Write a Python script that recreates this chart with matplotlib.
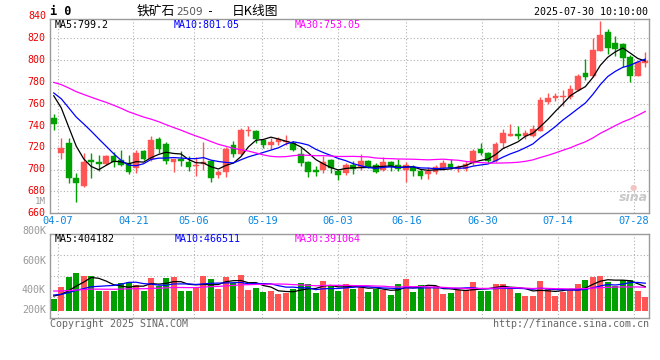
import numpy as np
import matplotlib
matplotlib.use('Agg')
import matplotlib.pyplot as plt
from matplotlib.transforms import ScaledTranslation

# ---------------- data ----------------
tick_labels = ['04-07', '04-21', '05-06', '05-19', '06-03', '06-16', '06-30', '07-14', '07-28']
tick_index = [1, 11, 19, 28, 38, 47, 57, 67, 77]

opens = [747, 715, 724, 692, 685, 709, 707, 705, 712, 709,
         706, 701, 717, 710, 728, 723, 706.5, 709.5, 706.5, 703,
         705, 708, 695, 697.5, 722, 714.5, 735, 735.5, 727, 722.5,
         725.5, 725, 724.5, 714, 707, 699.5, 699.5, 708.3, 698.5, 696.5,
         704.5, 702.5, 707.5, 704.5, 699.5, 707, 704.5, 699.5, 702.5, 698.5,
         695.5, 697.5, 701.5, 705.5, 700.5, 700.5, 706, 718.5, 715, 707.7,
         724.6, 731, 732.3, 731, 730.8, 735.5, 761.5, 765.3, 766, 766,
         772.7, 788.2, 785.2, 808.7, 825.5, 815.7, 814.8, 803.2, 785.8, 797.5]
highs = [751, 728.5, 729, 697, 715, 715, 713, 713, 716, 718,
         713, 718, 718, 731, 730, 725, 710, 717, 712, 711,
         725, 709, 699.5, 720.5, 726, 738, 739.5, 736, 728, 729,
         730, 732, 726, 720, 707.5, 703, 712, 710, 700.5, 706,
         707.5, 714, 708.5, 706, 711, 707.7, 710, 707, 704, 700.5,
         702.5, 704, 708.5, 710, 704.5, 707.5, 719, 724, 716, 725,
         737, 741.5, 739.5, 736, 740.5, 766, 770, 770, 772.7, 777.6,
         787.3, 801, 820.3, 836, 828.5, 821.8, 815.7, 804.7, 799.5, 807]
lows = [736, 709.5, 688, 670, 684, 692, 699, 704, 702, 703,
        696, 697, 709, 708, 715, 705, 698, 703, 699, 694,
        700, 689, 692.5, 693, 711, 713, 731, 724.5, 719.5, 718.5,
        722.5, 722.5, 717, 703, 693, 694, 697, 697, 690, 695,
        695.5, 700, 701, 697, 698.5, 698.5, 698.5, 689, 694.5, 691.5,
        691, 695.5, 700, 700.5, 698, 698.5, 704.5, 713, 706, 707,
        720, 730.5, 727.7, 727.7, 730, 735, 760, 763, 758.3, 764.4,
        771.5, 781.8, 784.3, 808, 805.6, 803.5, 793.4, 779.7, 785.8, 794]
closes = [742, 720, 692, 688, 707, 707, 705, 712, 707, 704,
          698, 715, 710, 727, 719, 708, 709.5, 707.5, 702, 704,
          707, 692, 697.5, 718.5, 714.5, 736.5, 736.5, 727.5, 722.5, 725,
          728, 726.5, 718, 706, 697.5, 697.5, 707, 701, 695, 704.5,
          700.5, 707.5, 702, 697.5, 707, 702.5, 700.5, 704.5, 698.5, 694.5,
          698.5, 702.5, 706, 701.5, 702.5, 705.5, 717, 715, 707.7, 723,
          733, 732.3, 730.8, 733, 737, 763.5, 765, 767.5, 767.5, 773.6,
          785.8, 784.3, 809.3, 823, 811, 810.2, 802, 785.8, 798.6, 799.4]
# volume in thousands of lots
volumes_k = [196, 403, 571, 638, 588, 588, 336, 336, 336, 470,
             487, 431, 336, 554, 420, 554, 571, 336, 336, 375,
             588, 532, 370, 571, 459, 599, 347, 386, 319, 336,
             280, 291, 364, 459, 448, 302, 498, 414, 336, 448,
             364, 420, 319, 364, 347, 263, 448, 532, 319, 431,
             403, 420, 280, 302, 347, 347, 482, 336, 336, 448,
             448, 403, 302, 252, 252, 498, 364, 252, 319, 364,
             448, 515, 566, 582, 487, 414, 515, 515, 336, 235]
# sessions before the visible window (oldest first), needed for moving averages
prior_closes = [781, 784, 788, 785, 782, 778, 780, 786, 789, 792,
                787, 783, 785, 788, 790, 786, 782, 785, 780, 778,
                773, 775, 772, 770, 773, 775, 780, 775, 765]
prior_volumes_k = [375, 350, 360, 375, 355, 365, 370, 350, 380, 360,
                   355, 375, 365, 345, 390, 370, 350, 380, 360, 340,
                   285, 275, 280, 290, 270, 264, 255, 265, 250]
price_ticks = [660, 680, 700, 720, 740, 760, 780, 800, 820]
top_price_label = 840

# ---------------- helpers ----------------
W, H = 660, 360
MONO = 'DejaVu Sans Mono'
UP, DOWN = '#ff5555', '#00a000'


def fx(x):
    return x / W


def fy(y):
    return 1 - y / H


def moving_avg(prior, values, n):
    full = np.array(list(prior) + list(values), dtype=float)
    off = len(prior)
    return np.array([full[off + i - n + 1: off + i + 1].mean() for i in range(len(values))])


n = len(closes)
idx = np.arange(n)
o = np.array(opens); c = np.array(closes); hi = np.array(highs); lo = np.array(lows)
up = c >= o
colors = np.where(up, UP, DOWN)
grid_pos = [t * n / (n - 1) - 0.5 for t in tick_index]

fig = plt.figure(figsize=(W / 100, H / 100), dpi=100)
fig.patch.set_facecolor('white')

# ---------------- price panel ----------------
ax = fig.add_axes([fx(50), fy(213.3), fx(599), 194 / H])
ax.set_xlim(-0.5, n - 0.5)
ax.set_ylim(660.9, 837.3)
grid_kw = dict(color='#b0b0b0', lw=0.8, linestyle=(0, (1, 2)))
for gp in grid_pos:
    ax.axvline(gp, zorder=0, **grid_kw)
for p in price_ticks[1:]:
    ax.axhline(p, zorder=0, **grid_kw)

ax.vlines(idx, lo, hi, colors=colors, lw=1.0, zorder=2)
body_h = np.maximum(np.abs(c - o), 0.6)
ax.bar(idx, body_h, bottom=np.minimum(o, c), width=0.76, color=colors,
       edgecolor=colors, lw=0.3, zorder=3)

ma5 = moving_avg(prior_closes, closes, 5)
ma10 = moving_avg(prior_closes, closes, 10)
ma30 = moving_avg(prior_closes, closes, 30)
ax.plot(idx, ma5, color='black', lw=0.9, zorder=4)
ax.plot(idx, ma10, color='#0000ff', lw=0.9, zorder=4)
ax.plot(idx, ma30, color='#ff00ff', lw=0.9, zorder=4)

ax.set_yticks(price_ticks)
ax.set_yticklabels([str(p) for p in price_ticks], fontfamily=MONO, fontsize=7.2, color='#ee0000')
ax.set_xticks(grid_pos)
ax.set_xticklabels(tick_labels, fontfamily=MONO, fontsize=7.4, color='#0a86e0')
ax.tick_params(length=0, pad=3)
ax.tick_params(axis='x', pad=2)
lift = ScaledTranslation(0, 1.2 / 100, fig.dpi_scale_trans)
for lab in ax.get_yticklabels():
    lab.set_transform(lab.get_transform() + lift)
for s in ax.spines.values():
    s.set_color('#9a9a9a'); s.set_linewidth(1.0)

# ---------------- volume panel ----------------
av = fig.add_axes([fx(50), fy(317.7), fx(599), 83.4 / H])
av.set_xlim(-0.5, n - 0.5)
av.set_ylim(-118, 1283)
for gp in grid_pos:
    av.axvline(gp, zorder=0, **grid_kw)
for f in (0.25, 0.5, 0.75):
    av.plot([0, 1], [f, f], transform=av.transAxes, zorder=0, **grid_kw)
av.bar(idx, volumes_k, width=0.8, color=colors, lw=0, zorder=2)
v5 = moving_avg(prior_volumes_k, volumes_k, 5)
v10 = moving_avg(prior_volumes_k, volumes_k, 10)
v30 = moving_avg(prior_volumes_k, volumes_k, 30)
av.plot(idx, v5, color='black', lw=0.9, zorder=3)
av.plot(idx, v10, color='#0000ff', lw=0.9, zorder=3)
av.plot(idx, v30, color='#ff00ff', lw=0.9, zorder=3)
av.set_xticks([]); av.set_yticks([])
for s in av.spines.values():
    s.set_color('#9a9a9a'); s.set_linewidth(1.0)

# ---------------- texts ----------------
fig.text(fx(50.5), fy(11.5), 'i 0', fontfamily=MONO, fontweight='bold', fontsize=8.5,
         va='center', ha='left', color='black')
fig.text(fx(136.5), fy(11.5), '铁矿石', fontfamily='Noto Sans CJK SC', fontsize=9.2,
         va='center', ha='left', color='black')
fig.text(fx(176.5), fy(12), '2509', fontfamily='DejaVu Sans', fontsize=7.6,
         va='center', ha='left', color='#555555')
fig.text(fx(207), fy(11.5), '-', fontfamily=MONO, fontsize=8.5,
         va='center', ha='left', color='black')
fig.text(fx(231.5), fy(11.5), '日K线图', fontfamily='Noto Sans CJK SC', fontsize=9.2,
         va='center', ha='left', color='black')
fig.text(fx(648.5), fy(12), '2025-07-30 10:10:00', fontfamily=MONO, fontsize=7.2,
         va='center', ha='right', color='black')

fig.text(fx(46), fy(16.3), str(top_price_label), fontfamily=MONO, fontsize=7.2,
         va='center', ha='right', color='#ee0000')
fig.text(fx(46), fy(201), '1M', fontfamily=MONO, fontsize=6.6,
         va='center', ha='right', color='#999999')

fig.text(fx(54.5), fy(24.5), 'MA5:799.2', fontfamily=MONO, fontsize=7.2,
         va='center', ha='left', color='black')
fig.text(fx(174), fy(24.5), 'MA10:801.05', fontfamily=MONO, fontsize=7.2,
         va='center', ha='left', color='#0000ff')
fig.text(fx(295), fy(24.5), 'MA30:753.05', fontfamily=MONO, fontsize=7.2,
         va='center', ha='left', color='#ff00ff')

fig.text(fx(54.5), fy(239), 'MA5:404182', fontfamily=MONO, fontsize=7.2,
         va='center', ha='left', color='black')
fig.text(fx(175), fy(239), 'MA10:466511', fontfamily=MONO, fontsize=7.2,
         va='center', ha='left', color='#0000ff')
fig.text(fx(295), fy(239), 'MA30:391064', fontfamily=MONO, fontsize=7.2,
         va='center', ha='left', color='#ff00ff')

for lab, yy in (('800K', 231), ('600K', 261), ('400K', 290), ('200K', 310)):
    fig.text(fx(46), fy(yy), lab, fontfamily=MONO, fontsize=7.2,
             va='center', ha='right', color='#999999')

fig.text(fx(50), fy(324), 'Copyright 2025 SINA.COM', fontfamily=MONO, fontsize=7.2,
         va='center', ha='left', color='#666666')
fig.text(fx(649), fy(324), 'http://finance.sina.com.cn', fontfamily=MONO, fontsize=7.2,
         va='center', ha='right', color='#666666')

fig.text(fx(648), fy(197), 'sina', fontfamily='DejaVu Sans', fontstyle='italic',
         fontweight='bold', fontsize=9, va='center', ha='right', color='#c8c8c8')
fig.text(fx(633), fy(187), '●', fontfamily='DejaVu Sans', fontsize=6,
         va='center', ha='center', color='#f2c4c4')

fig.savefig('out.png', dpi=100, facecolor='white')
